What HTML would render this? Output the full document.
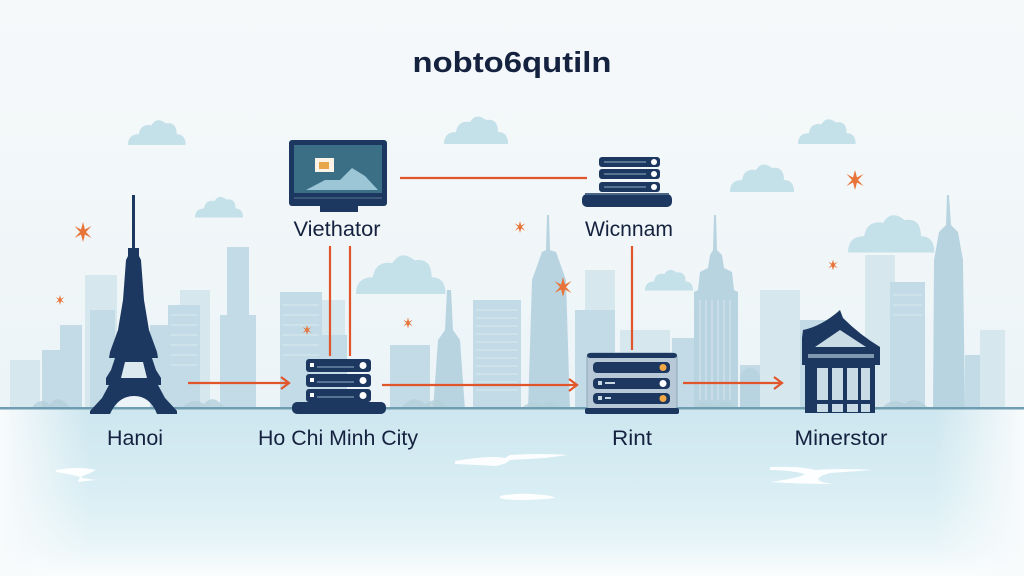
<!DOCTYPE html>
<html><head><meta charset="utf-8"><style>
html,body{margin:0;padding:0;width:1024px;height:576px;overflow:hidden;background:#f3f7f9}
svg{display:block}
text{font-family:"Liberation Sans",sans-serif}
</style></head><body>
<svg width="1024" height="576" viewBox="0 0 1024 576" xmlns="http://www.w3.org/2000/svg">
<defs>
<linearGradient id="sky" x1="0" y1="0" x2="0" y2="1">
<stop offset="0" stop-color="#f6f9fa"/><stop offset="0.6" stop-color="#eef5f8"/><stop offset="1" stop-color="#e6f1f5"/>
</linearGradient>
<linearGradient id="water" x1="0" y1="0" x2="0" y2="1">
<stop offset="0" stop-color="#cde6ef"/><stop offset="0.5" stop-color="#d9eef4"/><stop offset="0.82" stop-color="#e9f5f8"/><stop offset="1" stop-color="#fbfdfd"/>
</linearGradient>
<linearGradient id="edgeL" x1="0" y1="0" x2="1" y2="0">
<stop offset="0" stop-color="#f8fbfc" stop-opacity="1"/><stop offset="1" stop-color="#f8fbfc" stop-opacity="0"/>
</linearGradient>
<linearGradient id="edgeR" x1="1" y1="0" x2="0" y2="0">
<stop offset="0" stop-color="#f8fbfc" stop-opacity="1"/><stop offset="1" stop-color="#f8fbfc" stop-opacity="0"/>
</linearGradient>
<g id="cloud"><path d="M0 30 Q0 18 12 18 Q14 6 26 8 Q32 -2 42 6 Q54 4 54 18 Q64 18 64 30 Z"/></g>
<g id="spark"><path d="M0 -10 L2 -2.5 L8.5 -6 L3 0 L8.5 6 L2 2.5 L0 10 L-2 2.5 L-8.5 6 L-3 0 L-8.5 -6 L-2 -2.5 Z"/></g>
</defs>
<rect width="1024" height="576" fill="url(#sky)"/>

<!-- clouds -->
<g fill="#bcdce6" opacity="0.85">
<use href="#cloud" transform="translate(128,118) scale(0.9)"/>
<use href="#cloud" transform="translate(195,195) scale(0.75)"/>
<use href="#cloud" transform="translate(444,114) scale(1.0)"/>
<use href="#cloud" transform="translate(356,252) scale(1.4)"/>
<use href="#cloud" transform="translate(798,117) scale(0.9)"/>
<use href="#cloud" transform="translate(730,162) scale(1.0)"/>
<use href="#cloud" transform="translate(848,212) scale(1.35)"/>
<use href="#cloud" transform="translate(645,268) scale(0.75)"/>
</g>

<!-- skyline back -->
<g fill="#d6e7ee">
<rect x="85" y="275" width="32" height="135"/>
<rect x="760" y="290" width="40" height="120"/>
<rect x="305" y="300" width="40" height="110"/>
<rect x="585" y="270" width="30" height="140"/>
<rect x="865" y="255" width="30" height="155"/>
<rect x="620" y="330" width="50" height="80"/>
<rect x="180" y="290" width="30" height="120"/>
<rect x="10" y="360" width="30" height="50"/>
<rect x="980" y="330" width="25" height="80"/>
</g>
<g fill="#c3dbe6">
<rect x="42" y="350" width="18" height="60"/>
<rect x="60" y="325" width="22" height="85"/>
<rect x="90" y="310" width="25" height="100"/>
<rect x="150" y="325" width="22" height="85"/>
<rect x="168" y="305" width="32" height="105"/>
<rect x="227" y="247" width="22" height="163"/>
<rect x="220" y="315" width="36" height="95"/>
<rect x="280" y="292" width="42" height="118"/>
<rect x="322" y="335" width="25" height="75"/>
<rect x="390" y="345" width="40" height="65"/>
<rect x="473" y="300" width="48" height="110"/>
<rect x="575" y="310" width="40" height="100"/>
<rect x="672" y="338" width="23" height="72"/>
<rect x="740" y="365" width="20" height="45"/>
<rect x="890" y="282" width="35" height="128"/>
<rect x="965" y="355" width="15" height="55"/>
<rect x="800" y="320" width="30" height="90"/>
</g>
<!-- spire towers -->
<g fill="#b9d4e1">
<path d="M447 290 L451 290 L453 330 L460 340 L465 410 L433 410 L438 340 L445 330 Z"/>
<path d="M547 215 L549 215 L550 250 L556 252 L566 280 L570 410 L528 410 L532 280 L542 252 L546 250 Z"/>
<path d="M714 215 L716 215 L717 250 L722 255 L724 268 L732 272 L734 290 L738 292 L738 410 L694 410 L694 292 L698 290 L700 272 L708 268 L710 255 L713 250 Z"/>
<path d="M947 195 L949 195 L951 225 L958 232 L963 260 L965 410 L933 410 L934 260 L939 232 L946 225 Z"/>
<path d="M740 375 Q750 360 760 375 L760 410 L740 410 Z"/>
</g>
<!-- window stripes -->
<g stroke="#e3eff4" stroke-width="1" opacity="0.7">
<path d="M476 310 H518 M476 318 H518 M476 326 H518 M476 334 H518 M476 342 H518 M476 350 H518 M476 358 H518 M476 366 H518 M476 374 H518 M476 382 H518 M476 390 H518"/>
<path d="M283 305 H319 M283 315 H319 M283 325 H319 M283 335 H319 M283 345 H319 M283 355 H319"/>
<path d="M171 315 H197 M171 325 H197 M171 335 H197 M171 345 H197 M171 355 H197 M171 365 H197"/>
<path d="M893 295 H922 M893 305 H922 M893 315 H922"/>
<path d="M700 300 V400 M706 300 V400 M712 300 V400 M718 300 V400 M724 300 V400 M730 300 V400"/>
</g>
<!-- bushes -->
<g fill="#b4cfdb" opacity="0.8">
<path d="M30 410 Q40 395 50 405 Q58 392 70 408 Z M180 410 Q192 396 204 404 Q214 392 226 410 Z M400 410 Q412 392 425 404 Q440 394 448 410 Z M520 410 Q530 398 542 406 Q552 394 564 410 Z M690 410 Q702 398 716 406 Q726 396 738 410 Z M880 410 Q892 396 904 404 Q916 394 930 410 Z"/>
</g>

<!-- water -->
<rect x="0" y="409" width="1024" height="167" fill="url(#water)"/>
<rect x="0" y="409" width="90" height="167" fill="url(#edgeL)"/>
<rect x="934" y="409" width="90" height="167" fill="url(#edgeR)"/>
<rect x="0" y="407" width="1024" height="2.5" fill="#6f9db2"/>
<g fill="#ffffff" opacity="0.95">
<path d="M56 470 Q80 466 96 470 L88 474 Q80 476 82 478 L96 480 L78 482 L80 477 Q70 474 56 472 Z"/>
<path d="M455 461 Q490 455 505 458 L510 455 Q540 453 568 455 L545 458 L510 460 Q505 465 495 466 Q480 465 455 464 Z"/>
<path d="M500 496 Q515 493 530 494 Q552 495 555 498 Q540 500 520 500 Q505 500 500 498 Z"/>
<path d="M770 467 Q800 466 815 470 Q840 468 873 470 L830 473 Q812 478 822 482 L832 484 Q800 484 770 482 Q800 478 805 474 Q790 470 770 470 Z"/>
</g>

<!-- sparkles -->
<g fill="#e8743a">
<use href="#spark" transform="translate(83,232) scale(1.0)"/>
<use href="#spark" transform="translate(60,300) scale(0.5)"/>
<use href="#spark" transform="translate(408,323) scale(0.55)"/>
<use href="#spark" transform="translate(520,227) scale(0.6)"/>
<use href="#spark" transform="translate(563,287) scale(1.0)"/>
<use href="#spark" transform="translate(855,180) scale(1.0)"/>
<use href="#spark" transform="translate(833,265) scale(0.55)"/>
<use href="#spark" transform="translate(307,330) scale(0.5)"/>
</g>

<!-- connectors -->
<g stroke="#e0552a" stroke-width="2.2" fill="none">
<line x1="400" y1="178" x2="587" y2="178"/>
<line x1="330" y1="246" x2="330" y2="356"/>
<line x1="350" y1="246" x2="350" y2="356"/>
<line x1="632" y1="246" x2="632" y2="350"/>
<line x1="188" y1="383" x2="288" y2="383"/>
<path d="M281 377 L289 383 L281 389"/>
<line x1="382" y1="385" x2="576" y2="385"/>
<path d="M569 379 L577 385 L569 391"/>
<line x1="683" y1="383" x2="781" y2="383"/>
<path d="M774 377 L782 383 L774 389"/>
</g>

<!-- Eiffel tower -->
<g fill="#1d3860">
<path d="M132 195 L135 195 L135 248 L139 248 L139 256 L141 260 L144 300 L149 330 L157 352 L158 358 L152 358 L156 370 L161 378 L161 385 L158 385 L165 398 L177 411 L177 414 L157 414 Q150 396 134 396 Q118 396 110 414 L90 414 L90 411 L102 398 L109 385 L106 385 L106 378 L111 370 L115 358 L109 358 L110 352 L118 330 L123 300 L126 260 L128 256 L128 248 L132 248 Z"/>
</g>
<path d="M121 378 L147 378 L143 362 L125 362 Z" fill="#dceaf0"/>

<!-- building Minerstor -->
<g fill="#1d3860">
<path d="M803 330 Q822 326 840 310 L843 318 Q860 335 880 347 L880 352 L802 352 L802 338 Z"/>
<rect x="802" y="350" width="78" height="15"/>
<rect x="805" y="365" width="70" height="48"/>
</g>
<path d="M815 347 L840 330 L866 347 Z" fill="#c9dce6"/>
<rect x="808" y="354" width="66" height="4" fill="#a9c2d2" opacity="0.7"/>
<g fill="#c9dce6">
<rect x="817" y="368" width="11" height="32"/>
<rect x="832" y="368" width="11" height="32"/>
<rect x="847" y="368" width="11" height="32"/>
<rect x="861" y="368" width="9" height="32"/>
<rect x="817" y="404" width="11" height="8"/>
<rect x="832" y="404" width="11" height="8"/>
<rect x="847" y="404" width="11" height="8"/>
<rect x="861" y="404" width="9" height="8"/>
</g>

<!-- monitor Viethator -->
<rect x="289" y="140" width="98" height="66" rx="3" fill="#1d3860"/>
<rect x="294" y="145" width="88" height="48" fill="#3a6f86"/>
<path d="M306 190 L325 180 L340 180 L352 168 L365 176 L378 190 Z" fill="#9cc6d6"/>
<rect x="315" y="158" width="19" height="14" fill="#fbf3e6"/>
<rect x="319" y="162" width="10" height="7" fill="#e8a64a"/>
<rect x="294" y="197" width="88" height="2" fill="#3b5678"/>
<rect x="320" y="205" width="38" height="7" fill="#1d3860"/>

<!-- server Wicnnam -->
<g fill="#1d3860">
<rect x="599" y="157" width="61" height="10" rx="3"/>
<rect x="599" y="169" width="61" height="10" rx="3"/>
<rect x="599" y="182" width="61" height="10" rx="3"/>
<rect x="582" y="194" width="90" height="13" rx="5"/>
</g>
<g fill="#ffffff">
<circle cx="654" cy="162" r="3"/><circle cx="654" cy="174" r="3"/><circle cx="654" cy="187" r="3"/>
</g>
<g stroke="#8fb0c6" stroke-width="1">
<path d="M604 162 H646 M604 174 H646 M604 187 H646"/>
</g>
<rect x="585" y="193" width="84" height="2" fill="#4a6788"/>

<!-- server Ho Chi Minh City -->
<g fill="#1d3860">
<rect x="306" y="359" width="65" height="13" rx="3"/>
<rect x="306" y="374" width="65" height="13" rx="3"/>
<rect x="306" y="389" width="65" height="13" rx="3"/>
<rect x="292" y="402" width="94" height="12" rx="5"/>
</g>
<g fill="#ffffff">
<circle cx="363" cy="365.5" r="3.5"/><circle cx="363" cy="380.5" r="3.5"/><circle cx="363" cy="395.5" r="3.5"/>
<rect x="310" y="363" width="4" height="4"/><rect x="310" y="378" width="4" height="4"/><rect x="310" y="393" width="4" height="4"/>
</g>
<g stroke="#8fb0c6" stroke-width="1">
<path d="M317 367 H354 M317 382 H354 M317 397 H354"/>
</g>

<!-- server Rint -->
<rect x="587" y="353" width="90" height="58" rx="5" fill="#b7c9d6" stroke="#8ea6b8" stroke-width="1"/>
<rect x="587" y="353" width="90" height="5" rx="3" fill="#1d3860"/>
<g fill="#1d3860">
<rect x="593" y="362" width="77" height="11" rx="4"/>
<rect x="593" y="378" width="77" height="11" rx="4"/>
<rect x="593" y="393" width="77" height="11" rx="4"/>
<rect x="585" y="408" width="94" height="6" rx="2"/>
</g>
<circle cx="663" cy="367.5" r="3.5" fill="#f2a845"/>
<circle cx="663" cy="383.5" r="3.5" fill="#ffffff"/>
<circle cx="663" cy="398.5" r="3.5" fill="#f2a845"/>
<g fill="#c8d8e4"><rect x="598" y="381" width="4" height="4"/><rect x="605" y="382" width="10" height="2"/><rect x="598" y="396" width="4" height="4"/><rect x="605" y="397" width="6" height="2"/></g>

<!-- labels -->
<g fill="#15223f" font-size="21">
<text x="512" y="72" font-size="29" font-weight="bold" text-anchor="middle" textLength="199" lengthAdjust="spacingAndGlyphs">nobto6qutiln</text>
<text x="337" y="236" text-anchor="middle" textLength="87" lengthAdjust="spacingAndGlyphs">Viethator</text>
<text x="629" y="236" text-anchor="middle" textLength="88" lengthAdjust="spacingAndGlyphs">Wicnnam</text>
<text x="135" y="445" text-anchor="middle" textLength="56" lengthAdjust="spacingAndGlyphs">Hanoi</text>
<text x="338" y="445" text-anchor="middle" textLength="160" lengthAdjust="spacingAndGlyphs">Ho Chi Minh City</text>
<text x="632" y="445" text-anchor="middle" textLength="40" lengthAdjust="spacingAndGlyphs">Rint</text>
<text x="841" y="445" text-anchor="middle" textLength="93" lengthAdjust="spacingAndGlyphs">Minerstor</text>
</g>
</svg>
</body></html>
